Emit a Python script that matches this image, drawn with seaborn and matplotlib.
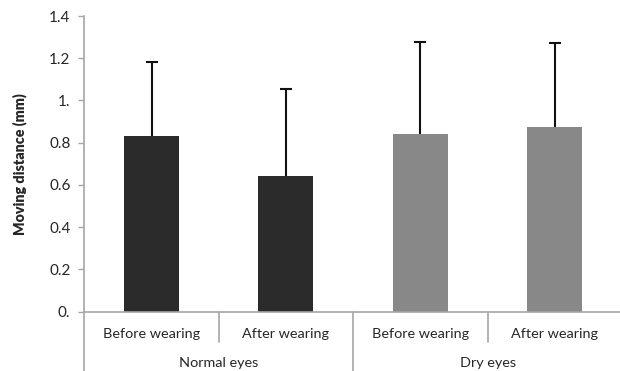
import matplotlib
matplotlib.use("Agg")
import matplotlib.pyplot as plt
import seaborn as sns
import pandas as pd

# Data
groups = ["Normal eyes", "Normal eyes", "Dry eyes", "Dry eyes"]
conditions = ["Before wearing", "After wearing", "Before wearing", "After wearing"]
means = [0.833, 0.641, 0.840, 0.875]
sds = [0.348, 0.415, 0.436, 0.397]
group_names = ["Normal eyes", "Dry eyes"]
ytick_values = [0.0, 0.2, 0.4, 0.6, 0.8, 1.0, 1.2, 1.4]
ytick_labels = ["0.", "0.2", "0.4", "0.6", "0.8", "1.", "1.2", "1.4"]

bar_colors = {"Normal eyes": "#2b2b2b", "Dry eyes": "#888888"}
axis_color = "#a6a6a6"
text_color = "#262626"

sns.set_theme(style="white")
plt.rcParams["font.family"] = ["Lato", "DejaVu Sans"]

df = pd.DataFrame({
    "key": [f"{g}|{c}" for g, c in zip(groups, conditions)],
    "group": groups,
    "condition": conditions,
    "mean": means,
    "sd": sds,
})

W, H = 620, 371
fig = plt.figure(figsize=(W / 100, H / 100), dpi=100)
ax_left, ax_bottom_px, ax_top_px = 84.3, 311.7, 16.0
cat_w = 134.4
ax = fig.add_axes([ax_left / W, (H - ax_bottom_px) / H,
                   4 * cat_w / W, (ax_bottom_px - ax_top_px) / H])

sns.barplot(data=df, x="key", y="mean", hue="group", palette=bar_colors,
            dodge=False, width=0.41, errorbar=None, legend=False,
            saturation=1, ax=ax, linewidth=0)

# Upper-only error bars (hide the cap that would sit on the bar top)
_, caplines, _ = ax.errorbar(range(len(means)), means,
                             yerr=[[0] * len(sds), sds], fmt="none",
                             ecolor="#111111", elinewidth=1.5, capsize=4,
                             capthick=1.5, zorder=5)
caplines[0].set_visible(False)

ax.set_xlim(-0.5, 3.5)
ax.set_ylim(0, 1.4)
ax.set_yticks(ytick_values)
ax.set_yticklabels(ytick_labels)
ax.tick_params(axis="y", length=4, width=1, color=axis_color, pad=6,
               labelsize=11, labelcolor=text_color, left=True)
ax.set_xticks(range(len(conditions)))
ax.set_xticklabels(conditions)
ax.tick_params(axis="x", length=0, pad=12, labelsize=10.4, labelcolor=text_color)
ax.set_xlabel("")
ax.set_ylabel("Moving distance (mm)", fontsize=10.3, fontweight="heavy",
              color=text_color, labelpad=16)

for side in ["top", "right"]:
    ax.spines[side].set_visible(False)
for side in ["left", "bottom"]:
    ax.spines[side].set_color(axis_color)
    ax.spines[side].set_linewidth(1.2)

# Category separators below the axis, and group separators to the bottom
ax_h = ax_bottom_px - ax_top_px
trans = ax.get_xaxis_transform()
for xs in [0.5, 2.5]:
    ax.plot([xs, xs], [0, -30 / ax_h], transform=trans, color=axis_color,
            lw=1.2, clip_on=False)
for xs in [-0.5, 1.5, 3.5]:
    ax.plot([xs, xs], [0, -(H - ax_bottom_px + 2) / ax_h], transform=trans,
            color=axis_color, lw=1.2, clip_on=False)

# Group labels
for i, g in enumerate(group_names):
    ax.text(2 * i + 0.5, -(363 - ax_bottom_px) / ax_h, g, transform=trans,
            ha="center", va="center", fontsize=10.4, color=text_color)

fig.savefig("out.png", dpi=100)
